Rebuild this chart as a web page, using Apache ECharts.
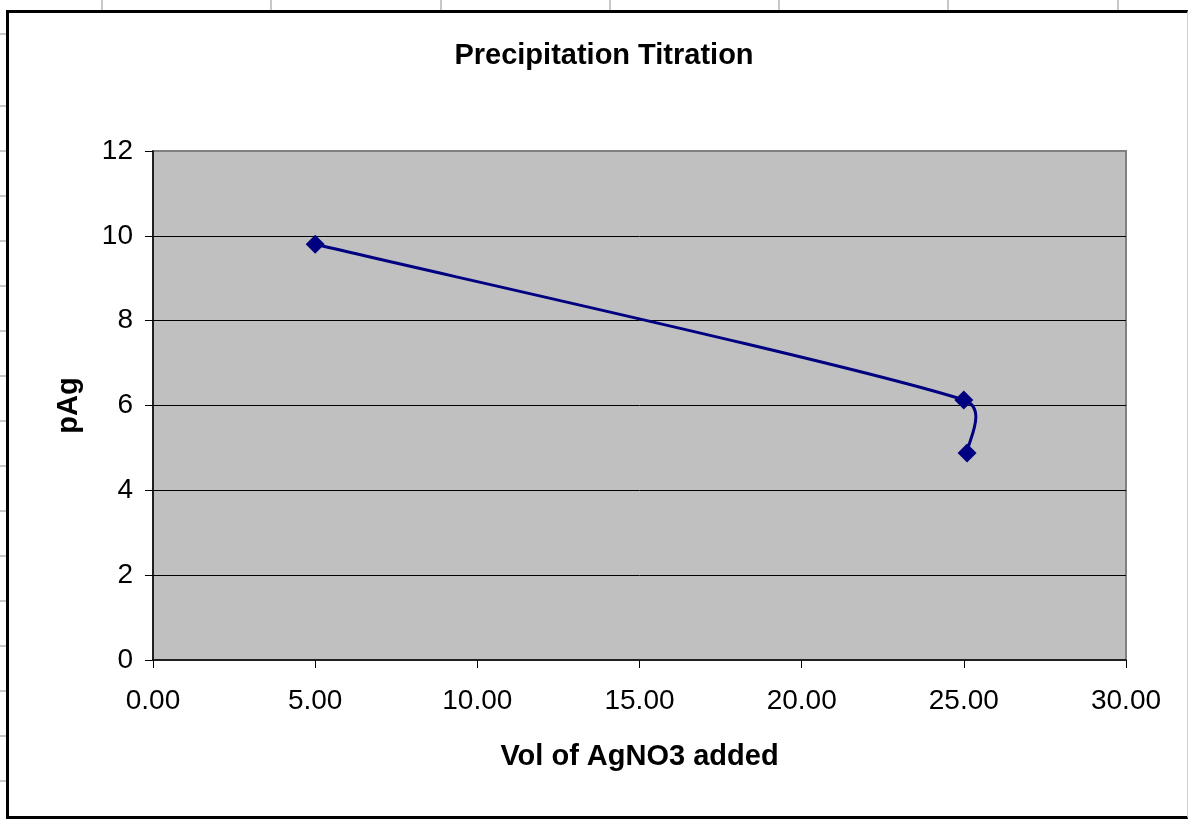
<!DOCTYPE html>
<html>
<head>
<meta charset="utf-8">
<script src="https://cdn.jsdelivr.net/npm/echarts@6/dist/echarts.min.js"></script>
<style>
html,body{margin:0;padding:0;width:1188px;height:819px;overflow:hidden;background:#fff;}
.vline{position:absolute;top:0;height:12px;width:2px;background:#c8c8c8;}
.hline{position:absolute;left:0;width:8px;height:2px;background:#c8c8c8;}
#frame{position:absolute;left:6px;top:10px;width:1178px;height:803px;border-left:3px solid #000;border-top:3px solid #000;border-bottom:3px solid #000;border-right:1px solid #d0d0d0;background:#fff;}
#chart{position:absolute;left:0;top:0;width:1188px;height:819px;}
</style>
</head>
<body>
<div id="sheet"></div>
<div id="frame"></div>
<div id="chart"></div>
<script>
// ---- data ----
const titleText = 'Precipitation Titration';
const xAxisName = 'Vol of AgNO3 added';
const yAxisName = 'pAg';
const volumes = [5.00, 25.00, 25.10];     // mL of AgNO3 added
const pAgValues = [9.80, 6.13, 4.88];     // pAg
const xTickValues = [0, 5, 10, 15, 20, 25, 30];
const yTickValues = [0, 2, 4, 6, 8, 10, 12];

// ---- spreadsheet background (decoration) ----
const sheet = document.getElementById('sheet');
[101, 270, 440, 609, 778, 947, 1117].forEach(x => {
  const d = document.createElement('div'); d.className = 'vline'; d.style.left = x + 'px'; sheet.appendChild(d);
});
[33].concat(Array.from({length: 16}, (_, k) => 105 + 45 * k)).forEach(y => {
  const d = document.createElement('div'); d.className = 'hline'; d.style.top = y + 'px'; sheet.appendChild(d);
});

// ---- chart ----
const chart = echarts.init(document.getElementById('chart'), null, {renderer: 'canvas'});
const FONT = '"Liberation Sans", Arial, sans-serif';
const points = volumes.map((v, i) => [v, pAgValues[i]]);

function renderSmooth(params, api) {
  if (params.dataIndex !== 0) return null;
  const P = points.map(p => api.coord(p));
  const n = P.length;
  const children = [];
  for (let i = 0; i < n - 1; i++) {
    const p0 = P[Math.max(i - 1, 0)], p1 = P[i], p2 = P[i + 1], p3 = P[Math.min(i + 2, n - 1)];
    const seg = Math.hypot(p2[0] - p1[0], p2[1] - p1[1]);
    const t1 = [p2[0] - p0[0], p2[1] - p0[1]];
    const t2 = [p3[0] - p1[0], p3[1] - p1[1]];
    const l1 = Math.hypot(t1[0], t1[1]), l2 = Math.hypot(t2[0], t2[1]);
    const s1 = l1 ? Math.min(l1 / 6, seg / 2) / l1 : 0;
    const s2 = l2 ? Math.min(l2 / 6, seg / 2) / l2 : 0;
    children.push({
      type: 'bezierCurve',
      shape: {
        x1: p1[0], y1: p1[1],
        cpx1: p1[0] + t1[0] * s1, cpy1: p1[1] + t1[1] * s1,
        cpx2: p2[0] - t2[0] * s2, cpy2: p2[1] - t2[1] * s2,
        x2: p2[0], y2: p2[1]
      },
      style: {stroke: '#000080', lineWidth: 3, fill: 'none', lineCap: 'round', lineJoin: 'round'}
    });
  }
  return {type: 'group', children: children};
}

chart.setOption({
  animation: false,
  backgroundColor: 'transparent',
  title: {
    text: titleText,
    left: 599, top: 36,
    textAlign: 'center',
    textStyle: {fontFamily: FONT, fontSize: 29, fontWeight: 'bold', color: '#000'}
  },
  grid: {
    left: 153, right: 62, top: 151, bottom: 159,
    show: true, backgroundColor: '#c0c0c0', borderColor: '#808080', borderWidth: 2
  },
  xAxis: {
    type: 'value', min: xTickValues[0], max: xTickValues[xTickValues.length - 1], interval: 5,
    name: xAxisName, nameLocation: 'middle', nameGap: 82,
    nameTextStyle: {fontFamily: FONT, fontSize: 29, fontWeight: 'bold', color: '#000'},
    axisLine: {show: true, lineStyle: {color: '#000', width: 1.5}},
    axisTick: {show: true, length: 8, lineStyle: {color: '#000', width: 1}},
    axisLabel: {fontFamily: FONT, fontSize: 28, color: '#000', margin: 27, formatter: v => v.toFixed(2)},
    splitLine: {show: false}
  },
  yAxis: {
    type: 'value', min: yTickValues[0], max: yTickValues[yTickValues.length - 1], interval: 2,
    name: yAxisName, nameLocation: 'middle', nameGap: 70, nameRotate: 90,
    nameTextStyle: {fontFamily: FONT, fontSize: 29, fontWeight: 'bold', color: '#000'},
    axisLine: {show: true, lineStyle: {color: '#000', width: 1.5}},
    axisTick: {show: true, length: 8, lineStyle: {color: '#000', width: 1}},
    axisLabel: {fontFamily: FONT, fontSize: 28, color: '#000', margin: 20},
    splitLine: {show: true, showMaxLine: false, showMinLine: false, lineStyle: {color: '#000', width: 1}}
  },
  series: [
    {
      type: 'custom', coordinateSystem: 'cartesian2d', silent: true,
      data: points, renderItem: renderSmooth, z: 2
    },
    {
      type: 'scatter', data: points, symbol: 'diamond', symbolSize: 19,
      itemStyle: {color: '#000080', opacity: 1}, z: 3, silent: true
    }
  ]
});
</script>
</body>
</html>
